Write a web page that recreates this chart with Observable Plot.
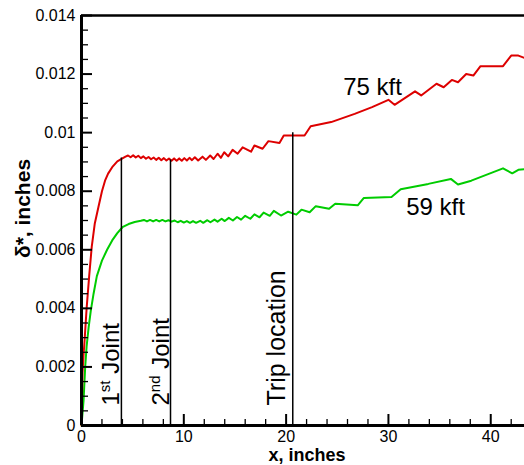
<!DOCTYPE html>
<html><head><meta charset="utf-8">
<script src="https://cdn.jsdelivr.net/npm/d3@7"></script>
<script src="https://cdn.jsdelivr.net/npm/@observablehq/plot@0.6"></script>
<style>body{margin:0;background:#fff}</style>
</head><body><div id="chart"></div>
<script>
// 75 kft series: [x inches, delta* inches]
const red75 = [
  [0,0],[0.1,0.0018],[0.2,0.0024],[0.3,0.0029],[0.5,0.0040],[0.75,0.0051],[1.0,0.0061],
  [1.3,0.0069],[1.65,0.00745],[2.0,0.0080],[2.3,0.00836],[2.6,0.0086],[3.0,0.00882],
  [3.5,0.00902],[4.0,0.00912],[4.3,0.00918],
  [4.55,0.00922],[4.8,0.00916],[5.05,0.00923],[5.3,0.00915],[5.55,0.00921],[5.8,0.00913],
  [6.05,0.00919],[6.3,0.00911],[6.55,0.00917],[6.8,0.00909],[7.05,0.00915],[7.3,0.00907],
  [7.55,0.00914],[7.8,0.00906],[8.05,0.00913],[8.3,0.00905],[8.55,0.00912],[8.8,0.00904],
  [9.05,0.00912],[9.3,0.00904],[9.55,0.00912],[9.8,0.00904],[10.05,0.00913],[10.3,0.00905],
  [10.55,0.00914],[10.8,0.00906],[11.08,0.00916],[11.4,0.00905],[11.83,0.00918],[12.16,0.00907],
  [12.58,0.00922],[12.91,0.0091],[13.3,0.00928],[13.63,0.00914],[13.95,0.00933],[14.34,0.00919],
  [14.77,0.00941],[15.26,0.00928],[15.75,0.0095],[16.57,0.00935],[16.9,0.00956],[17.7,0.00945],
  [18.27,0.00971],[19.35,0.00965],[19.77,0.0099],[21.8,0.0099],[22.4,0.01022],[24.4,0.01036],
  [26.7,0.01064],[28.4,0.01087],[30.0,0.01112],[30.6,0.01095],[32.6,0.01141],[33.2,0.01127],
  [34.7,0.01167],[35.4,0.01155],[36.2,0.0118],[36.8,0.01172],[37.6,0.0120],[38.3,0.01195],
  [39.0,0.01227],[41.2,0.01227],[42.0,0.01263],[42.7,0.01263],[43.3,0.01255]
];
// 59 kft series
const green59 = [
  [0,0],[0.2,0.00085],[0.36,0.0020],[0.5,0.0027],[0.7,0.00336],[0.9,0.0039],[1.18,0.0045],
  [1.5,0.0051],[2.0,0.00563],[2.5,0.0060],[3.0,0.00632],[3.5,0.00657],[4.0,0.00677],
  [4.6,0.00688],[5.2,0.00695],[5.8,0.00699],
  [6.1,0.00702],[6.4,0.00697],[6.7,0.00702],[7.0,0.00697],[7.3,0.00702],[7.6,0.00697],
  [7.9,0.00702],[8.2,0.00697],[8.5,0.00701],[8.8,0.00696],[9.1,0.00700],[9.4,0.00694],
  [9.7,0.00699],[10.0,0.00693],[10.3,0.00698],[10.6,0.00692],[10.9,0.00698],[11.2,0.00692],
  [11.6,0.00699],[11.9,0.00692],[12.3,0.00701],[12.6,0.00694],[13.0,0.00703],[13.3,0.00696],
  [13.7,0.00706],[14.0,0.00698],[14.4,0.00709],[14.8,0.00700],[15.2,0.00712],[15.6,0.00703],
  [16.0,0.00716],[16.5,0.00706],[16.9,0.00721],[17.4,0.00711],[17.8,0.00727],[18.4,0.00716],
  [18.8,0.00733],[19.5,0.00717],[20.2,0.00730],[21.0,0.00720],[21.5,0.00737],[22.3,0.00728],
  [22.9,0.00749],[24.2,0.0074],[24.8,0.00757],[27.0,0.00752],[27.6,0.00777],[30.3,0.0078],
  [31.2,0.00807],[33.9,0.00825],[36.1,0.00842],[36.8,0.00823],[38.1,0.00836],[41.2,0.00878],
  [42.1,0.00861],[42.7,0.00873],[43.3,0.00875]
];
const markerX = [3.9, 8.7, 20.65];
const markerTop = [0.00913, 0.00907, 0.0100];
const markerLabels = ["1st Joint", "2nd Joint", "Trip location"];
const seriesLabels = ["75 kft", "59 kft"];
const seriesLabelX = [28.45, 34.6];
const seriesLabelY = [0.01154, 0.00744];
const yTicks = [0, 0.002, 0.004, 0.006, 0.008, 0.01, 0.012, 0.014];
const yMinor = d3.range(0, 29).map(i => i * 0.0005).filter(v => Math.round(v * 10000) % 20 !== 0);
const xTicks = [0, 10, 20, 30, 40];
const xMinor = [2,4,6,8,12,14,16,18,22,24,26,28,32,34,36,38,42];

const markers = markerX.map((x, i) => ({x, top: markerTop[i], label: markerLabels[i]}));
const joints = markers.slice(0, 2);
const trip = markers.slice(2);
const seriesText = seriesLabels.map((t, i) => ({t, x: seriesLabelX[i], y: seriesLabelY[i]}));
const fmt = d => d === 0 ? "0" : String(+d.toFixed(3));
const font = "Liberation Sans, Arial, Helvetica, sans-serif";

const chart = Plot.plot({
  width: 524, height: 465,
  marginLeft: 81, marginRight: 0, marginTop: 15, marginBottom: 40,
  x: {domain: [0, 43.3]},
  y: {domain: [0, 0.014]},
  style: {fontFamily: font, fontSize: "16px", color: "black", background: "white"},
  marks: [
    Plot.line(green59, {x: d => d[0], y: d => d[1], stroke: "#00cc00", strokeWidth: 2}),
    Plot.line(red75, {x: d => d[0], y: d => d[1], stroke: "#dd0000", strokeWidth: 2}),
    Plot.ruleX(markers, {x: "x", y1: 0, y2: "top", stroke: "black", strokeWidth: 1.5}),
    Plot.text(joints, {x: "x", text: "label", frameAnchor: "bottom", dy: -20, dx: -2, rotate: -90,
      textAnchor: "start", lineAnchor: "bottom", fontSize: 24, fill: "black"}),
    Plot.text(trip, {x: "x", text: "label", frameAnchor: "bottom", dy: -20, dx: -8, rotate: -90,
      textAnchor: "start", lineAnchor: "bottom", fontSize: 25, fill: "black"}),
    Plot.text(seriesText, {x: "x", y: "y", text: "t", fontSize: 24, fill: "black"}),
    // axes
    Plot.axisY({ticks: yTicks, tickSize: 0, tickPadding: 6, tickFormat: fmt, fontSize: 16, label: null}),
    Plot.axisY({ticks: yTicks, tickSize: 11, dx: 11, fill: null, label: null, strokeWidth: 2}),
    Plot.axisY({ticks: yMinor, tickSize: 7, dx: 7, fill: null, label: null, strokeWidth: 1.3}),
    Plot.axisX({ticks: xTicks, tickSize: 0, tickPadding: 5, fontSize: 16, label: null}),
    Plot.axisX({ticks: xTicks, tickSize: 11, dy: -11, fill: null, label: null, strokeWidth: 2}),
    Plot.axisX({ticks: xMinor, tickSize: 6, dy: -6, fill: null, label: null, strokeWidth: 1.3}),
    Plot.ruleY([0.014], {stroke: "black", strokeWidth: 2.5}),
    Plot.ruleX([0], {stroke: "black", strokeWidth: 3}),
    Plot.ruleY([0], {stroke: "black", strokeWidth: 3}),
    Plot.text(["δ*, inches"], {frameAnchor: "left", textAnchor: "middle", lineAnchor: "middle", dx: -58, dy: -12, rotate: -90, fontWeight: "bold", fontSize: 21, fill: "black"}),
    Plot.text(["x, inches"], {frameAnchor: "bottom", dx: 4, dy: 35, fontWeight: "bold", fontSize: 18, fill: "black"})
  ]
});

// superscripts for ordinal labels
d3.select(chart).selectAll("text").each(function () {
  const t = this.textContent;
  const m = /^(\d)(st|nd) (Joint)$/.exec(t);
  if (m) {
    const el = d3.select(this);
    el.text(null);
    el.append("tspan").text(m[1]);
    el.append("tspan").attr("font-size", "15px").attr("dy", "-9").text(m[2]);
    el.append("tspan").attr("font-size", "24px").attr("dy", "9").text(" " + m[3]);
  }
});
document.getElementById("chart").append(chart);
</script>
</body></html>
